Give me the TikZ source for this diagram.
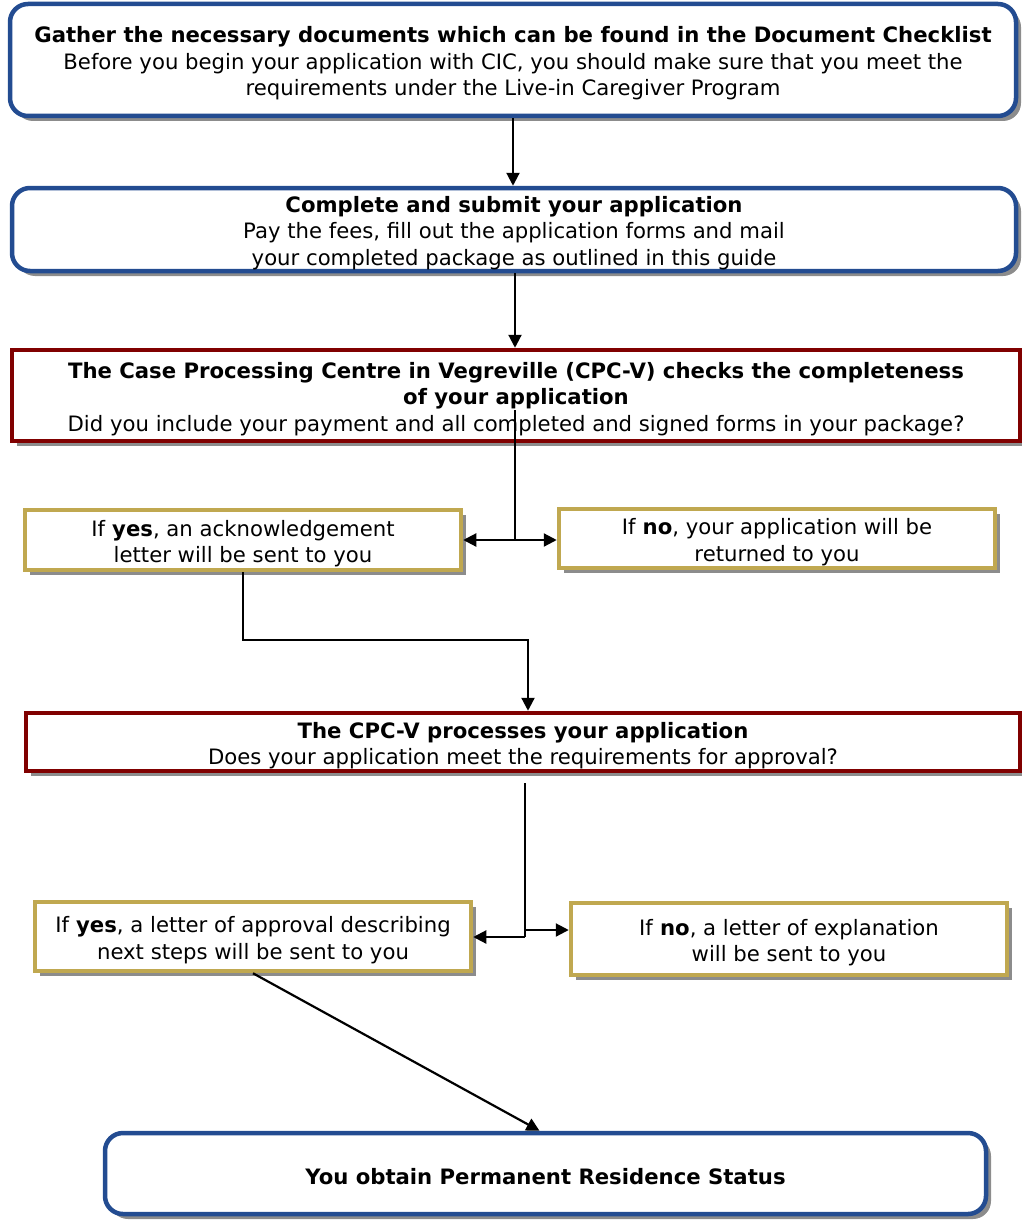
\documentclass[tikz,border=0pt]{standalone}
\usepackage{fontspec}
\setmainfont{DejaVu Sans}
\usetikzlibrary{arrows.meta,shadows,calc}
\definecolor{bluec}{RGB}{35,76,145}
\definecolor{redc}{RGB}{128,0,0}
\definecolor{goldc}{RGB}{192,168,80}
\definecolor{shadc}{RGB}{140,140,140}
\newcommand\tstrut{\rule{0pt}{23pt}}
\tikzset{
  boxbase/.style={fill=white, line width=4.5pt, inner sep=0pt, align=center,
    font=\fontsize{21.2}{26.5}\selectfont,
    drop shadow={shadow xshift=5pt, shadow yshift=-5pt, fill=shadc, opacity=1}},
  bluebox/.style={boxbase, draw=bluec, rounded corners=18pt},
  redbox/.style={boxbase, draw=redc},
  goldbox/.style={boxbase, draw=goldc},
  conn/.style={line width=2.2pt, black},
  arr/.style={conn, -{Triangle[length=13pt,width=13pt]}},
}
\begin{document}
\begin{tikzpicture}[x=1pt,y=-1pt]
\useasboundingbox (0,0) rectangle (1021,1220);
\node[bluebox, minimum width=1006pt, minimum height=112pt] (b1) at (513,60)
  {\tstrut\textbf{Gather the necessary documents which can be found in the Document Checklist}\\
   Before you begin your application with CIC, you should make sure that you meet the\\
   requirements under the Live-in Caregiver Program};
\node[bluebox, minimum width=1004pt, minimum height=83pt] (b2) at (514,229.5)
  {\tstrut\textbf{Complete and submit your application}\\
   Pay the fees, fill out the application forms and mail\\
   your completed package as outlined in this guide};
\node[redbox, minimum width=1008pt, minimum height=91pt] (b3) at (516,395.5)
  {\tstrut\textbf{The Case Processing Centre in Vegreville (CPC-V) checks the completeness}\\
   \textbf{of your application}\\
   Did you include your payment and all completed and signed forms in your package?};
\node[goldbox, minimum width=436pt, minimum height=60pt] (y1) at (243,540)
  {\tstrut If \textbf{yes}, an acknowledgement\\ letter will be sent to you};
\node[goldbox, minimum width=436pt, minimum height=59pt] (n1) at (777,538.5)
  {\tstrut If \textbf{no}, your application will be\\ returned to you};
\node[redbox, minimum width=994pt, minimum height=58pt] (b4) at (523,742)
  {\tstrut\textbf{The CPC-V processes your application}\\
   Does your application meet the requirements for approval?};
\node[goldbox, minimum width=436pt, minimum height=69pt] (y2) at (253,936.5)
  {\tstrut If \textbf{yes}, a letter of approval describing\\ next steps will be sent to you};
\node[goldbox, minimum width=436pt, minimum height=72pt] (n2) at (789,939)
  {\tstrut If \textbf{no}, a letter of explanation\\ will be sent to you};
\node[bluebox, minimum width=881pt, minimum height=81pt] (f) at (545.5,1173.5)
  {\tstrut\textbf{You obtain Permanent Residence Status}};
% connectors
\draw[arr] (b1.south) -- (b1.south |- b2.north);
\draw[arr] ([xshift=1pt]b2.south) -- ([xshift=1pt]b2.south |- b3.north);
\coordinate (s1) at (515,410);
\coordinate (j1) at (515,540);
\draw[conn] (s1) -- (j1);
\draw[arr] (j1) -- (y1.east |- j1);
\draw[arr] (j1) -- (n1.west |- j1);
\coordinate (k1) at (528,640);
\draw[arr] (y1.south) |- (k1) -- (k1 |- b4.north);
\coordinate (s2) at (525,783);
\coordinate (j2) at (525,937);
\coordinate (j3) at (525,930);
\draw[conn] (s2) -- (j2);
\draw[arr] (j2) -- (y2.east |- j2);
\draw[arr] (j3) -- (n2.west |- j3);
\draw[arr] (y2.south) -- ([xshift=-6pt]f.north);
\end{tikzpicture}
\end{document}
